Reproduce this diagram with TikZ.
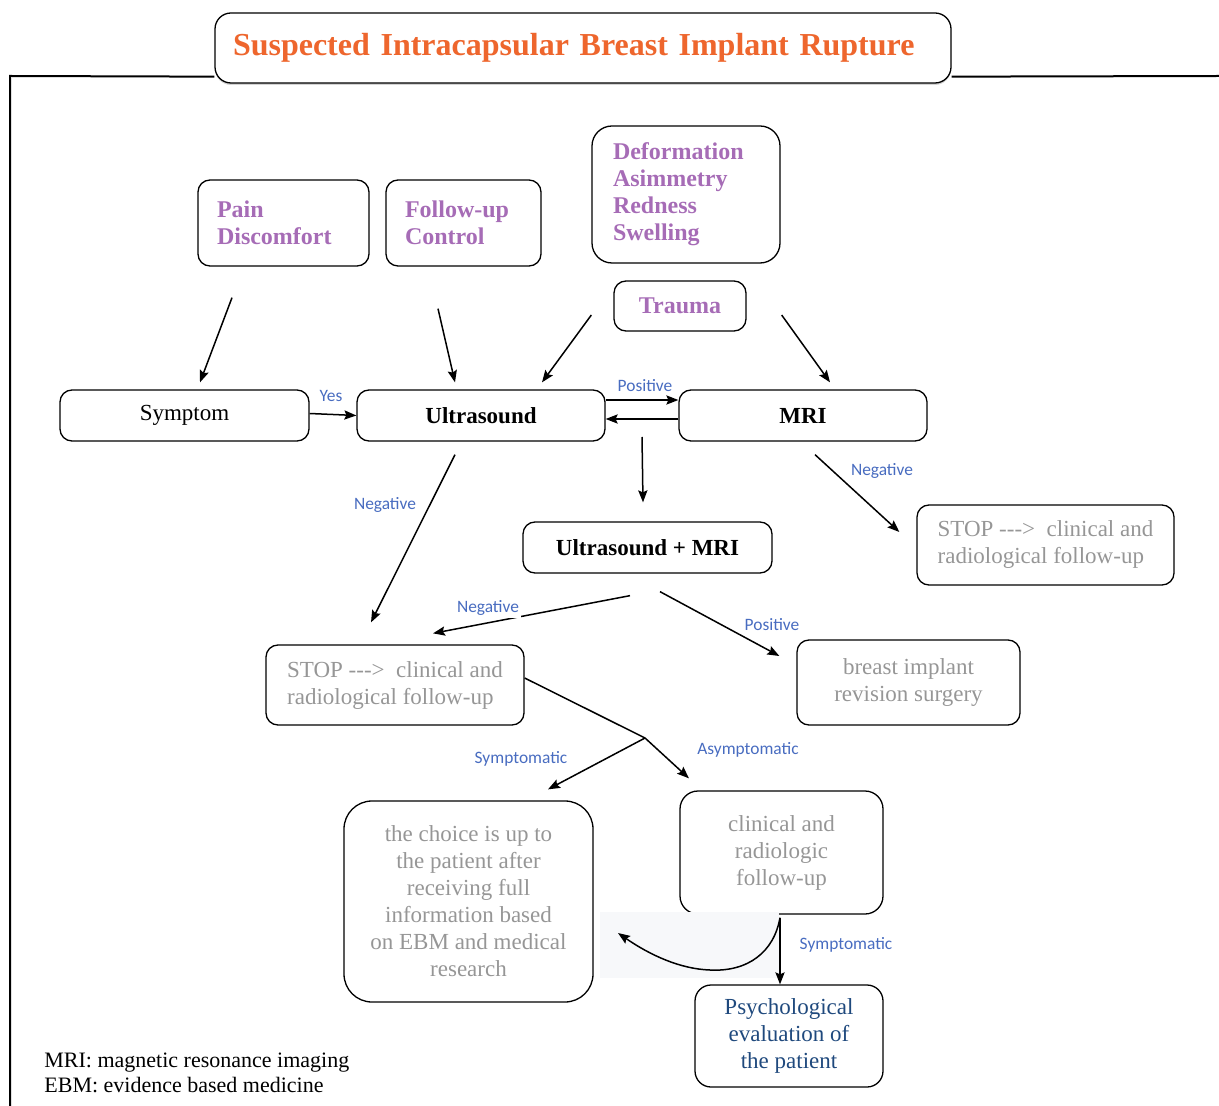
\documentclass[tikz,border=0pt]{standalone}
\usepackage{fontspec}
\setmainfont{Liberation Serif}
\newfontfamily\lblfont{Carlito}
\usetikzlibrary{arrows.meta,calc,shadows}

\definecolor{titleorange}{RGB}{238,102,45}
\definecolor{sympurple}{RGB}{166,108,182}
\definecolor{lblblue}{RGB}{72,108,192}
\definecolor{stopgray}{RGB}{150,150,150}
\definecolor{psychblue}{RGB}{31,73,125}
\definecolor{bgtint}{RGB}{247,248,250}

\begin{document}
\begin{tikzpicture}[x=0.5pt,y=-0.5pt,
    box/.style={draw,rounded corners=6pt,line width=0.65pt,inner sep=0pt,
      font=\fontsize{11.5}{13.5}\selectfont},
    sym/.style={box,text=sympurple,align=left,
      font=\bfseries\fontsize{12}{13.5}\selectfont},
    stopbox/.style={box,text=stopgray,align=left,minimum height=40pt},
    arr/.style={line width=0.75pt,-{Stealth[length=6pt,width=4.6pt,inset=1pt]}},
    lbl/.style={font=\lblfont\fontsize{8.7}{10}\selectfont,text=lblblue,inner sep=1pt}]
  \useasboundingbox (0,0) rectangle (1219,1106);

  % title and frame
  \node[box,rounded corners=8pt,text=titleorange,minimum width=368pt,minimum height=35pt,
    text width=350pt,align=left,font=\bfseries\fontsize{16}{18}\selectfont,fill=white,
    drop shadow={opacity=0.35,shadow xshift=0pt,shadow yshift=-1pt}]
    (title) at (583,48) {Suspected Intracapsular Breast Implant Rupture\\[2pt]};
  \draw[line width=1pt] (10,1106) -- (10,76) -- ($(title.south west)+(0,-7)$);
  \draw[line width=1pt] ($(title.south east)+(0,-7)$) -- (1219,76);

  % symptoms
  \node[sym,minimum width=85.5pt,minimum height=43pt,text width=66.5pt] (pain) at (283.5,223) {Pain\\Discomfort\\[3pt]};
  \node[sym,minimum width=77.5pt,minimum height=43pt,text width=58.5pt] (follow) at (463.5,223) {Follow-up\\Control\\[3pt]};
  \node[sym,rounded corners=10pt,minimum width=94pt,minimum height=68.5pt,text width=73pt] (deform) at (686,194.5) {Deformation\\Asimmetry\\Redness\\Swelling};
  \node[sym,align=center,minimum width=66pt,minimum height=25pt] (trauma) at (680,306) {Trauma};

  % exams
  \node[box,minimum width=124.5pt,minimum height=25.5pt] (symptom) at (184.5,415.5) {Symptom};
  \node[box,font=\bfseries\fontsize{11.5}{13.5}\selectfont,minimum width=124pt,minimum height=25.5pt] (us) at (481,415.5) {Ultrasound};
  \node[box,font=\bfseries\fontsize{11.5}{13.5}\selectfont,minimum width=124pt,minimum height=25.5pt] (mri) at (803,415.5) {MRI};
  \node[box,font=\bfseries\fontsize{11.5}{13.5}\selectfont,minimum width=124.5pt,minimum height=25.5pt] (usmri) at (647.5,547.5) {Ultrasound + MRI};

  % outcomes
  \node[stopbox,minimum width=128.5pt] (stopr) at (1045.5,545) {STOP -{}-{}-> \ clinical and\\radiological follow-up};
  \node[stopbox,minimum width=129pt] (stopl) at (395,685) {STOP -{}-{}-> \ clinical and\\radiological follow-up};
  \node[box,text=stopgray,align=center,minimum width=111.5pt,minimum height=42.5pt] (surgery) at (908.5,682.5) {breast implant\\revision surgery};
  \node[box,text=stopgray,align=center,rounded corners=14pt,minimum width=124.5pt,minimum height=100.5pt] (choice) at (468.5,901.5)
    {the choice is up to\\the patient after\\receiving full\\information based\\on EBM and medical\\research};
  \node[box,text=stopgray,align=center,rounded corners=9pt,minimum width=101.5pt,minimum height=61.5pt] (clinic) at (781.5,852.5)
    {clinical and\\radiologic\\follow-up};
  \node[box,text=psychblue,align=center,rounded corners=8pt,minimum width=94pt,minimum height=51pt] (psych) at (789,1036)
    {Psychological\\evaluation of\\the patient};

  \node[anchor=west,align=left,inner sep=0pt,font=\fontsize{11}{12.5}\selectfont] (notes) at (44,1072.5)
    {MRI: magnetic resonance imaging\\EBM: evidence based medicine};

  % connectors
  \draw[arr] ($(pain.south)+(-51.5,31)$) -- ($(symptom.north)+(15.5,-7)$);
  \draw[arr] ($(follow.south)+(-25.5,42)$) -- ($(us.north)+(-26,-7)$);
  \draw[arr] ($(trauma.west)+(-22,9)$) -- ($(us.north)+(61,-7)$);
  \draw[arr] ($(trauma.east)+(35,9)$) -- ($(mri.north)+(27,-7)$);
  \draw[arr] ($(symptom.east)+(0,-2)$) -- (us.west);
  \draw[arr] ($(us.east)+(0,-15.5)$) -- ($(mri.west)+(0,-15.5)$);
  \draw[arr] ($(mri.west)+(0,3.5)$) -- ($(us.east)+(0,3.5)$);
  \draw[arr] ($(us.east)!0.5!(mri.west)+(0,21.5)$) -- ($(usmri.north)+(-4.5,-19)$);
  \draw[arr] ($(us.south)+(-26,13)$) -- ($(stopl.north)+(-24,-22)$);
  \draw[arr] ($(mri.south)+(12,13)$) -- ($(stopr.west)+(-17,-13)$);
  \draw[arr] ($(usmri.south)+(-17.5,22)$) -- ($(stopl.north)+(38,-11)$);
  \draw[arr] ($(usmri.south)+(12.5,18)$) -- ($(surgery.west)+(-17,-26.5)$);

  \coordinate (fork) at (645,738);
  \draw[line width=0.75pt] ($(stopl.east)+(0,-7)$) -- (fork);
  \draw[arr] (fork) -- ($(choice.north)+(79.5,-11)$);
  \draw[arr] (fork) -- ($(clinic.north)+(-92.5,-12)$);

  \coordinate (back) at (618,933);
  \fill[bgtint] (600,912) rectangle (779,978);
  \draw[arr] ($(clinic.south)+(-1.5,3)$) .. controls (774,952) and (748,972) .. (710,970)
    .. controls (680,969) and (650,955) .. (back);
  \draw[arr] ($(clinic.south)+(-1.5,3)$) -- ($(psych.north)+(-9,0)$);

  % labels
  \node[lbl] (yes) at (331,396) {Yes};
  \node[lbl] (pos1) at (645,386) {Positive};
  \node[lbl,fill=white] (neg1) at (385,505) {Negative};
  \node[lbl,fill=white] (neg2) at (882,471) {Negative};
  \node[lbl,fill=white] (neg3) at (488,608) {Negative};
  \node[lbl] (pos2) at (772,625) {Positive};
  \node[lbl] (symp1) at (521,759) {Symptomatic};
  \node[lbl] (asymp) at (748,750) {Asymptomatic};
  \node[lbl] (symp2) at (846,945) {Symptomatic};
\end{tikzpicture}
\end{document}
